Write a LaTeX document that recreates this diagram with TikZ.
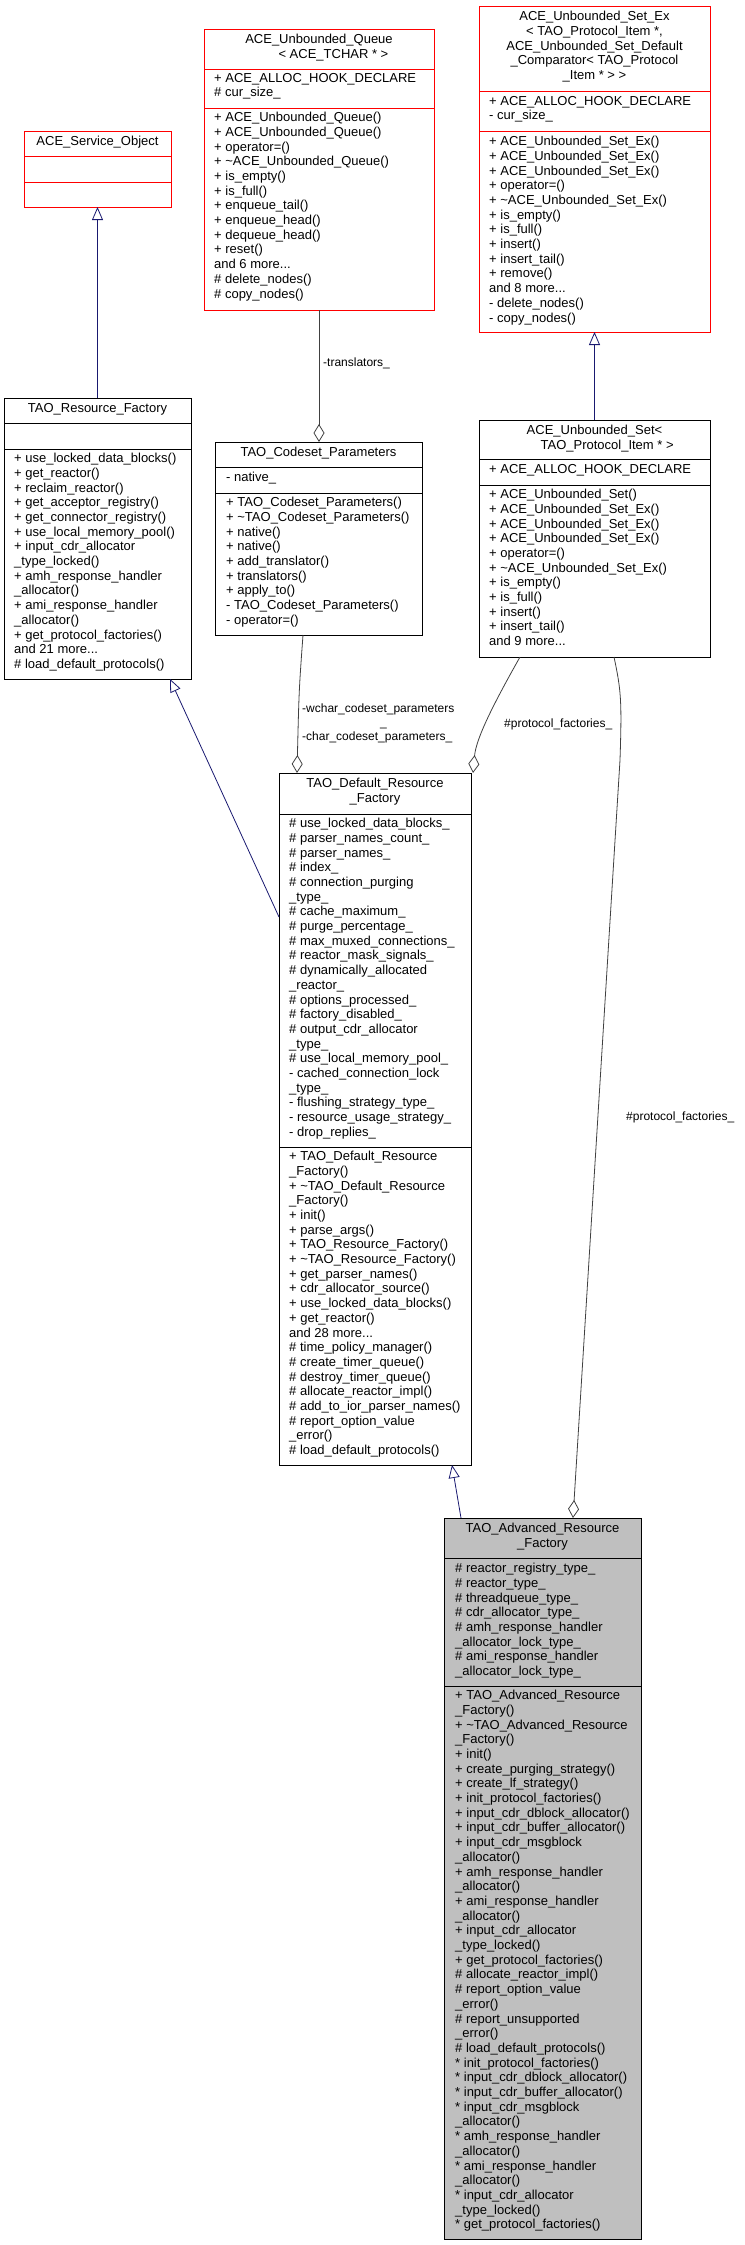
\documentclass[tikz,border=0pt]{standalone}
\usepackage{fontspec}
\setmainfont{Liberation Sans}
\usetikzlibrary{arrows.meta}
\definecolor{edgeblue}{RGB}{25,25,112}
\definecolor{edgegray}{RGB}{64,64,64}
\definecolor{boxgray}{RGB}{191,191,191}
\begin{document}
\begin{tikzpicture}[x=1pt,y=-1pt,
  txt/.style={anchor=north west,inner sep=0pt,align=left,font=\fontsize{13}{14.7}\selectfont},
  ttl/.style={anchor=north,inner sep=0pt,align=center,font=\fontsize{13}{14.7}\selectfont},
  lbl/.style={anchor=north west,inner sep=0pt,align=left,font=\fontsize{12}{14}\selectfont},
  cls/.style={draw,thick,inner sep=0pt,outer sep=0pt,anchor=north west},
  inh/.style={edgeblue,thick,-{Triangle[open,length=13,width=11]}},
  agg/.style={edgegray,thick,-{Diamond[open,length=18,width=11]}}]
\useasboundingbox (0,0) rectangle (744,2245);
% ACE_Service_Object
\node[cls,red,minimum width=147,minimum height=76] (svc) at (24,131) {};
\draw[red,thick] (24,156) -- (171,156) (24,182) -- (171,182);
\node[ttl] at (97.5,136) {ACE\_Service\_Object};
% Queue
\node[cls,red,minimum width=230,minimum height=281] (que) at (204,29) {};
\draw[red,thick] (204,69) -- (434,69) (204,108) -- (434,108);
\node[ttl] at (319,34) {ACE\_Unbounded\_Queue\\\ \ \ \ \ \ \ \ < ACE\_TCHAR * >};
\node[txt] at (214,73) {+ ACE\_ALLOC\_HOOK\_DECLARE\\\# cur\_size\_};
\node[txt] at (214,112) {+ ACE\_Unbounded\_Queue()\\+ ACE\_Unbounded\_Queue()\\+ operator=()\\+ \textasciitilde ACE\_Unbounded\_Queue()\\+ is\_empty()\\+ is\_full()\\+ enqueue\_tail()\\+ enqueue\_head()\\+ dequeue\_head()\\+ reset()\\and 6 more...\\\# delete\_nodes()\\\# copy\_nodes()};
% Set_Ex
\node[cls,red,minimum width=231,minimum height=326] (setex) at (479,6) {};
\draw[red,thick] (479,91) -- (710,91) (479,131) -- (710,131);
\node[ttl] at (594.5,11) {ACE\_Unbounded\_Set\_Ex\\< TAO\_Protocol\_Item *,\\ ACE\_Unbounded\_Set\_Default\\\_Comparator< TAO\_Protocol\\\_Item * > >};
\node[txt] at (489,96) {+ ACE\_ALLOC\_HOOK\_DECLARE\\- cur\_size\_};
\node[txt] at (489,136) {+ ACE\_Unbounded\_Set\_Ex()\\+ ACE\_Unbounded\_Set\_Ex()\\+ ACE\_Unbounded\_Set\_Ex()\\+ operator=()\\+ \textasciitilde ACE\_Unbounded\_Set\_Ex()\\+ is\_empty()\\+ is\_full()\\+ insert()\\+ insert\_tail()\\+ remove()\\and 8 more...\\- delete\_nodes()\\- copy\_nodes()};
% TAO_Resource_Factory
\node[cls,minimum width=187,minimum height=281] (rf) at (4,398) {};
\draw[thick] (4,423) -- (191,423) (4,449) -- (191,449);
\node[ttl] at (97.5,403) {TAO\_Resource\_Factory};
\node[txt] at (14,453) {+ use\_locked\_data\_blocks()\\+ get\_reactor()\\+ reclaim\_reactor()\\+ get\_acceptor\_registry()\\+ get\_connector\_registry()\\+ use\_local\_memory\_pool()\\+ input\_cdr\_allocator\\\_type\_locked()\\+ amh\_response\_handler\\\_allocator()\\+ ami\_response\_handler\\\_allocator()\\+ get\_protocol\_factories()\\and 21 more...\\\# load\_default\_protocols()};
% Codeset
\node[cls,minimum width=207,minimum height=193] (cs) at (215,442) {};
\draw[thick] (215,467) -- (422,467) (215,493) -- (422,493);
\node[ttl] at (318.5,447) {TAO\_Codeset\_Parameters};
\node[txt] at (226,472) {- native\_};
\node[txt] at (226,497) {+ TAO\_Codeset\_Parameters()\\+ \textasciitilde TAO\_Codeset\_Parameters()\\+ native()\\+ native()\\+ add\_translator()\\+ translators()\\+ apply\_to()\\- TAO\_Codeset\_Parameters()\\- operator=()};
% Unbounded_Set
\node[cls,minimum width=231,minimum height=237] (set) at (479,420) {};
\draw[thick] (479,459) -- (710,459) (479,485) -- (710,485);
\node[ttl] at (594.5,425) {ACE\_Unbounded\_Set<\\\ \ \ \ \ \ \ TAO\_Protocol\_Item * >};
\node[txt] at (489,464) {+ ACE\_ALLOC\_HOOK\_DECLARE};
\node[txt] at (489,489) {+ ACE\_Unbounded\_Set()\\+ ACE\_Unbounded\_Set\_Ex()\\+ ACE\_Unbounded\_Set\_Ex()\\+ ACE\_Unbounded\_Set\_Ex()\\+ operator=()\\+ \textasciitilde ACE\_Unbounded\_Set\_Ex()\\+ is\_empty()\\+ is\_full()\\+ insert()\\+ insert\_tail()\\and 9 more...};
% Default
\node[cls,minimum width=192,minimum height=692] (def) at (279,773) {};
\draw[thick] (279,814) -- (471,814) (279,1147) -- (471,1147);
\node[ttl] at (375,778) {TAO\_Default\_Resource\\\_Factory};
\node[txt] at (289,818) {\# use\_locked\_data\_blocks\_\\\# parser\_names\_count\_\\\# parser\_names\_\\\# index\_\\\# connection\_purging\\\_type\_\\\# cache\_maximum\_\\\# purge\_percentage\_\\\# max\_muxed\_connections\_\\\# reactor\_mask\_signals\_\\\# dynamically\_allocated\\\_reactor\_\\\# options\_processed\_\\\# factory\_disabled\_\\\# output\_cdr\_allocator\\\_type\_\\\# use\_local\_memory\_pool\_\\- cached\_connection\_lock\\\_type\_\\- flushing\_strategy\_type\_\\- resource\_usage\_strategy\_\\- drop\_replies\_};
\node[txt] at (289,1151) {+ TAO\_Default\_Resource\\\_Factory()\\+ \textasciitilde TAO\_Default\_Resource\\\_Factory()\\+ init()\\+ parse\_args()\\+ TAO\_Resource\_Factory()\\+ \textasciitilde TAO\_Resource\_Factory()\\+ get\_parser\_names()\\+ cdr\_allocator\_source()\\+ use\_locked\_data\_blocks()\\+ get\_reactor()\\and 28 more...\\\# time\_policy\_manager()\\\# create\_timer\_queue()\\\# destroy\_timer\_queue()\\\# allocate\_reactor\_impl()\\\# add\_to\_ior\_parser\_names()\\\# report\_option\_value\\\_error()\\\# load\_default\_protocols()};
% Advanced
\node[cls,fill=boxgray,minimum width=197,minimum height=721] (adv) at (444,1518) {};
\draw[thick] (444,1558) -- (641,1558) (444,1686) -- (641,1686);
\node[ttl] at (542.5,1523) {TAO\_Advanced\_Resource\\\_Factory};
\node[txt] at (455,1563) {\# reactor\_registry\_type\_\\\# reactor\_type\_\\\# threadqueue\_type\_\\\# cdr\_allocator\_type\_\\\# amh\_response\_handler\\\_allocator\_lock\_type\_\\\# ami\_response\_handler\\\_allocator\_lock\_type\_};
\node[txt] at (455,1690) {+ TAO\_Advanced\_Resource\\\_Factory()\\+ \textasciitilde TAO\_Advanced\_Resource\\\_Factory()\\+ init()\\+ create\_purging\_strategy()\\+ create\_lf\_strategy()\\+ init\_protocol\_factories()\\+ input\_cdr\_dblock\_allocator()\\+ input\_cdr\_buffer\_allocator()\\+ input\_cdr\_msgblock\\\_allocator()\\+ amh\_response\_handler\\\_allocator()\\+ ami\_response\_handler\\\_allocator()\\+ input\_cdr\_allocator\\\_type\_locked()\\+ get\_protocol\_factories()\\\# allocate\_reactor\_impl()\\\# report\_option\_value\\\_error()\\\# report\_unsupported\\\_error()\\\# load\_default\_protocols()\\* init\_protocol\_factories()\\* input\_cdr\_dblock\_allocator()\\* input\_cdr\_buffer\_allocator()\\* input\_cdr\_msgblock\\\_allocator()\\* amh\_response\_handler\\\_allocator()\\* ami\_response\_handler\\\_allocator()\\* input\_cdr\_allocator\\\_type\_locked()\\* get\_protocol\_factories()};
% coordinates for connectors
\coordinate (c1) at (97.5,398);
\coordinate (c2) at (170,679);
\coordinate (c3) at (279,917);
\coordinate (c4) at (319,310);
\coordinate (c5) at (319,442);
\coordinate (c6) at (303,635);
\coordinate (c7) at (297,773);
\coordinate (c8) at (594.5,420);
\coordinate (c9) at (594.5,332);
\coordinate (c10) at (520,657);
\coordinate (c11) at (473,773);
\coordinate (c12) at (614,657);
\coordinate (c13) at (573,1518);
\coordinate (c14) at (461,1518);
\coordinate (c15) at (452,1465);
% inheritance
\draw[inh] (c1) -- (svc.south);
\draw[inh] (c3) -- (c2);
\draw[inh] (c8) -- (c9);
\draw[inh] (c14) -- (c15);
% aggregation
\draw[agg] (c4) -- (c5);
\node[lbl] at (323,358) {-translators\_};
\draw[agg] (c6) .. controls (299,690) .. (c7);
\node[lbl] at (302,704) {-wchar\_codeset\_parameters\\\hspace*{78pt}\_\\-char\_codeset\_parameters\_};
\draw[agg] (c10) .. controls (490,710) and (476,740) .. (c11);
\node[lbl] at (504,719) {\#protocol\_factories\_};
\draw[agg] (c12) .. controls (621,690) and (622,700) .. (620,760) -- (c13);
\node[lbl] at (626,1112) {\#protocol\_factories\_};
\end{tikzpicture}
\end{document}
